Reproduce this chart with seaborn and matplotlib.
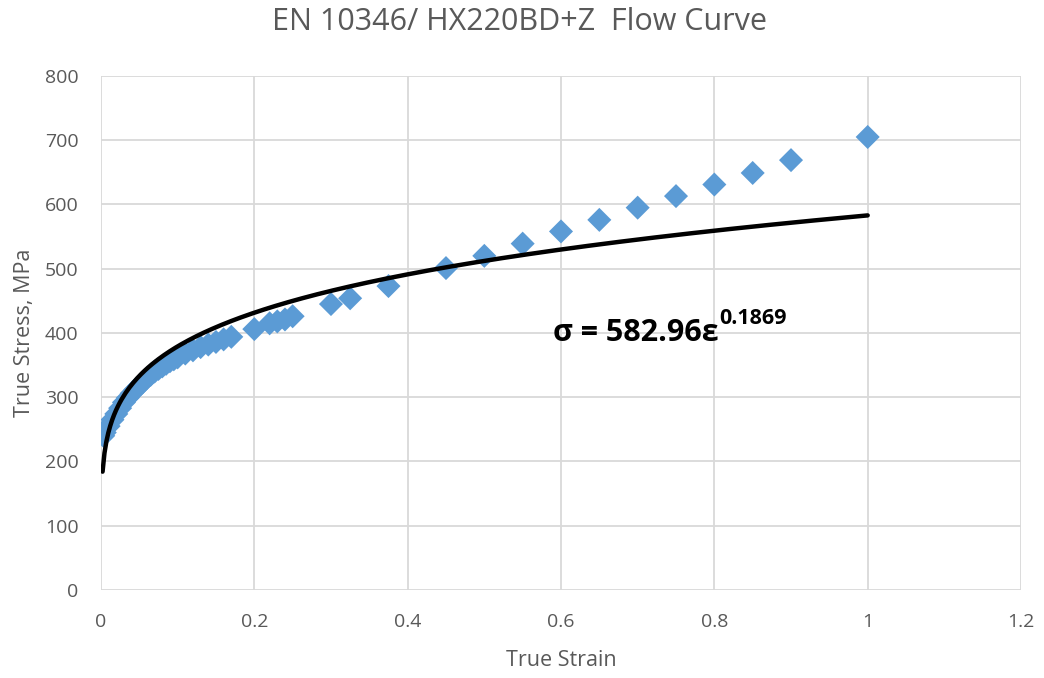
import numpy as np
import pandas as pd
import matplotlib
matplotlib.use("Agg")
import matplotlib.pyplot as plt
import seaborn as sns

strain = [0.003, 0.005, 0.01, 0.015, 0.02, 0.025, 0.03, 0.035, 0.04, 0.045, 0.05,
          0.055, 0.06, 0.065, 0.07, 0.075, 0.08, 0.085, 0.09, 0.095, 0.1,
          0.11, 0.12, 0.13, 0.14, 0.15, 0.16, 0.17,
          0.2, 0.22, 0.23, 0.24, 0.25, 0.3, 0.325, 0.375,
          0.45, 0.5, 0.55, 0.6, 0.65, 0.7, 0.75, 0.8, 0.85, 0.9, 1.0]
stress = [240, 245, 255, 265, 274, 283, 292, 299, 306, 312, 318,
          324, 330, 335, 340, 344, 348, 352, 356, 359, 362,
          368, 373, 378, 382, 386, 390, 394,
          406, 415, 418, 421, 426, 445, 454, 473,
          501, 520, 539, 558, 576, 595, 613, 631, 649, 669, 705]

# power-law trendline shown on the chart
K = 582.96
n = 0.1869

df = pd.DataFrame({"strain": strain, "stress": stress})
eps = np.linspace(0.0021, 1.0, 400)
fit = pd.DataFrame({"strain": eps, "stress": K * eps ** n})

sns.set_style("white")
plt.rcParams['font.family'] = ['Open Sans', 'DejaVu Sans']

fig = plt.figure(figsize=(10.44, 6.78), dpi=100)
ax = fig.add_axes([0.0967, 0.1298, 0.8813, 0.7582])

sns.scatterplot(data=df, x="strain", y="stress", marker="D", s=150,
                color="#5B9BD5", edgecolor="none", ax=ax, zorder=3)
sns.lineplot(data=fit, x="strain", y="stress", color="black", linewidth=3.2,
             ax=ax, zorder=4)

ax.set_xlim(0, 1.2)
ax.set_ylim(0, 800)
ax.set_xticks(np.arange(0, 1.21, 0.2))
ax.set_xticklabels(["0", "0.2", "0.4", "0.6", "0.8", "1", "1.2"])
ax.set_yticks(range(0, 801, 100))
ax.grid(True, color="#d9d9d9", linewidth=1.3)
ax.set_axisbelow(True)
for s in ax.spines.values():
    s.set_visible(False)
ax.tick_params(axis="both", length=0, labelsize=14, colors="#595959")
ax.tick_params(axis="x", pad=16.5)
ax.tick_params(axis="y", pad=16)

ax.set_xlabel("True Strain", fontsize=15.5, color="#595959", labelpad=14)
ax.set_ylabel("True Stress, MPa", fontsize=15.5, color="#595959", labelpad=7)
fig.suptitle("EN 10346/ HX220BD+Z  Flow Curve", fontsize=22, color="#595959",
             x=0.498, y=0.9676, va="center")

t = ax.text(0.590, 388, "σ = 582.96ε", fontsize=22, fontweight="bold",
            color="black", va="baseline", ha="left")
ax.annotate("0.1869", xy=(1, 0.62), xycoords=t, fontsize=15.5,
            fontweight="bold", color="black", va="bottom", ha="left")

fig.savefig("out.png", dpi=100)
